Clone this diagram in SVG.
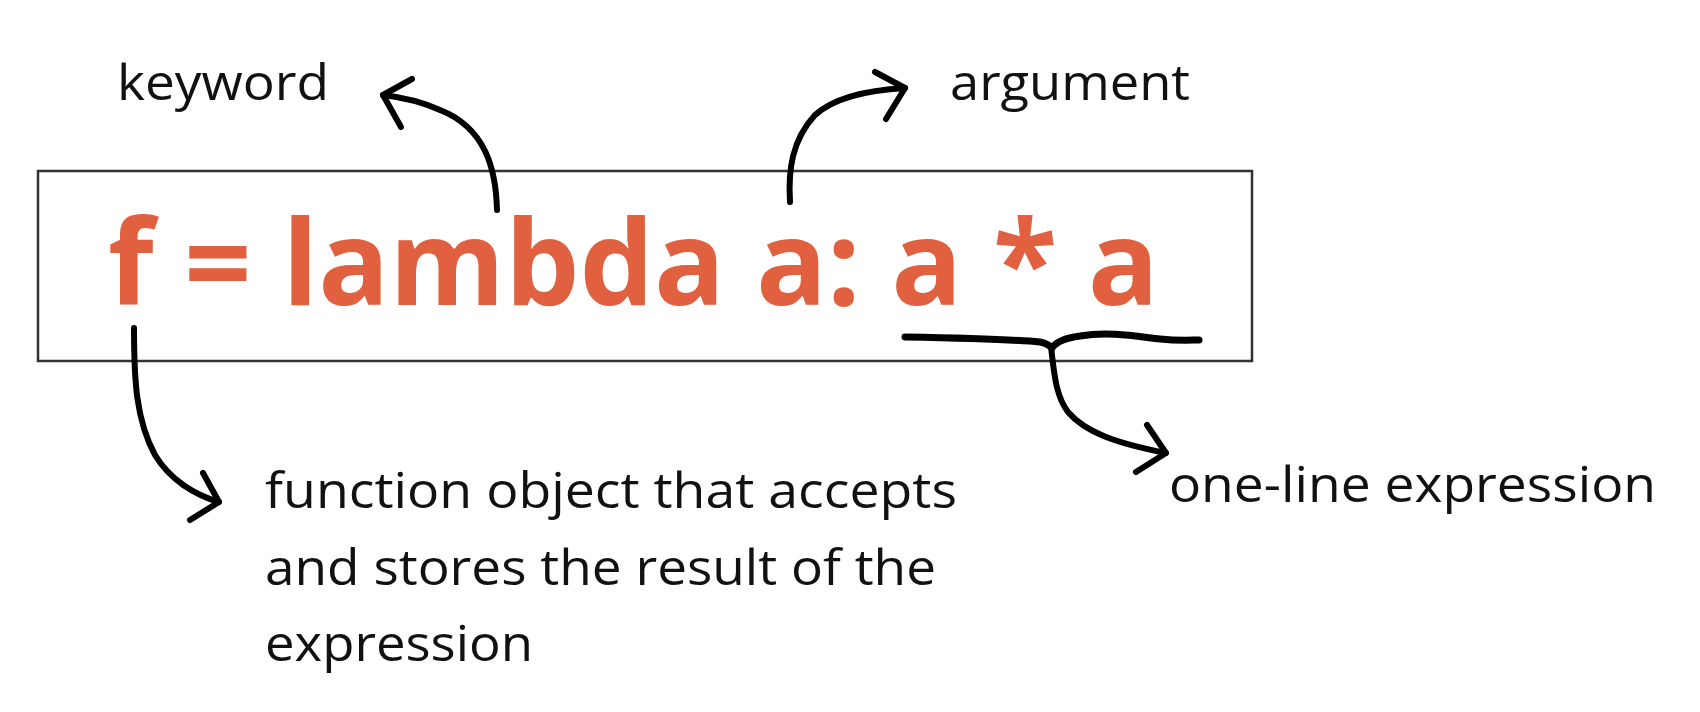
<svg xmlns="http://www.w3.org/2000/svg" width="1700" height="712" viewBox="0 0 1700 712">
<defs>
<style>
.lbl{font-family:"Open Sans","Liberation Sans",sans-serif;font-size:49px;fill:#111;}
.code{font-family:"Open Sans","Liberation Sans",sans-serif;font-size:118px;font-weight:bold;fill:#E0603F;}
.ln{fill:none;stroke:#000;stroke-width:6;stroke-linecap:round;stroke-linejoin:round;}
</style>
</defs>
<rect width="1700" height="712" fill="#fff"/>
<g id="expression-box">
<rect x="38" y="171" width="1214" height="190" fill="none" stroke="#333" stroke-width="2.5"/>
<text class="code" x="108" y="305" textLength="1051" lengthAdjust="spacingAndGlyphs">f = lambda a: a * a</text>
</g>
<g id="keyword"><text class="lbl" x="117" y="100" textLength="212" lengthAdjust="spacingAndGlyphs">keyword</text></g>
<g id="argument"><text class="lbl" x="950" y="100" textLength="240" lengthAdjust="spacingAndGlyphs">argument</text></g>
<g id="one-line"><text class="lbl" x="1169" y="502" textLength="487" lengthAdjust="spacingAndGlyphs">one-line expression</text></g>
<g id="function-object">
<text class="lbl" x="265" y="508" textLength="692" lengthAdjust="spacingAndGlyphs">function object that accepts</text>
<text class="lbl" x="265" y="585" textLength="671" lengthAdjust="spacingAndGlyphs">and stores the result of the</text>
<text class="lbl" x="265" y="661" textLength="268" lengthAdjust="spacingAndGlyphs">expression</text>
</g>
<g id="connectors">
<path class="ln" d="M497,210 C496,170 486,128 440,110 C420,101 400,97 383,95"/>
<path class="ln" d="M412,79 L383,95 L401,127"/>
<path class="ln" d="M790,202 C788,170 792,140 815,115 C835,97 870,90 905,88"/>
<path class="ln" d="M875,72 L905,88 L886,119"/>
<path class="ln" d="M134,328 C134,380 136,420 155,455 C170,480 195,495 219,502"/>
<path class="ln" d="M203,473 L219,502 L190,520"/>
<path class="ln" style="stroke-width:7" d="M905,337 C960,338 1010,339 1040,342 C1046,343 1050,346 1052,348 C1056,342 1065,338 1080,336 C1110,331 1140,337 1160,339 C1180,341 1192,340 1199,340"/>
<path class="ln" d="M1051,347 C1054,370 1055,395 1068,412 C1085,432 1115,443 1166,453"/>
<path class="ln" d="M1147,425 L1166,453 L1136,472"/>
</g>
</svg>
